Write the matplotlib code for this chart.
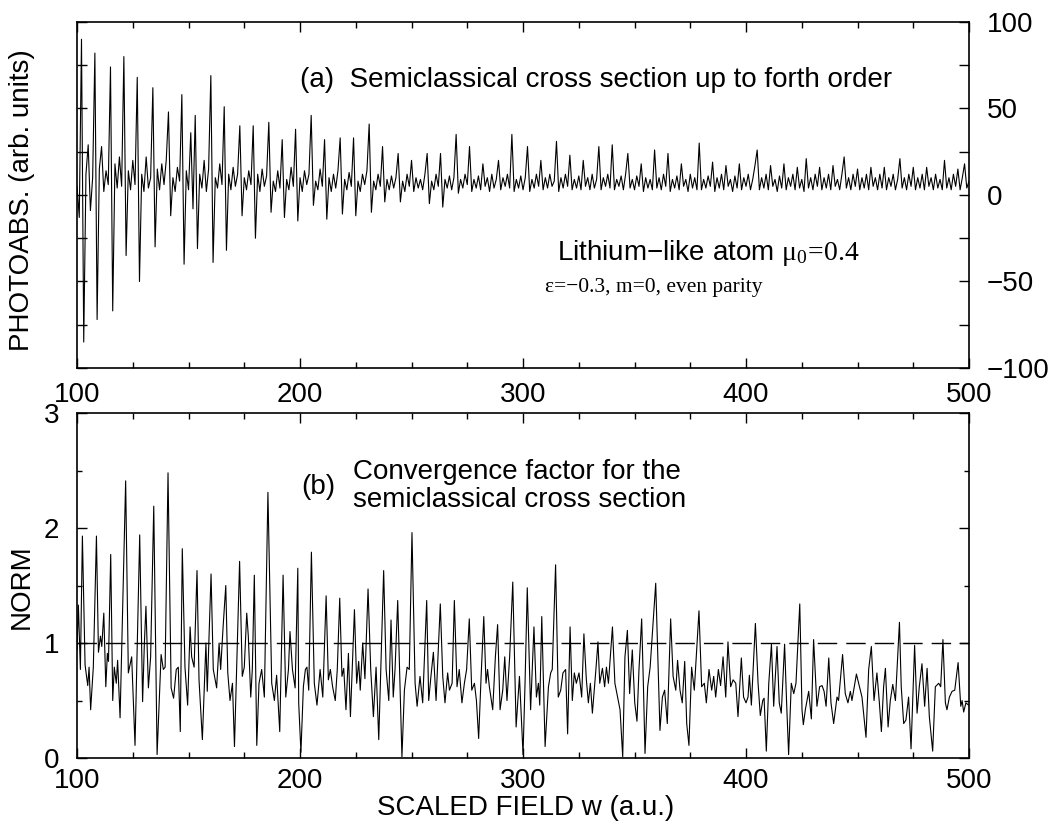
import numpy as np
import matplotlib.pyplot as plt
from matplotlib.ticker import MultipleLocator

plt.rcParams['font.family'] = ['Liberation Sans', 'DejaVu Sans']
plt.rcParams['mathtext.fontset'] = 'custom'
plt.rcParams['mathtext.rm'] = 'Liberation Serif'
plt.rcParams['mathtext.it'] = 'Liberation Serif:italic'

# (a) photoabsorption, one value per unit of scaled field (100 ... 500)
absorb_w = np.arange(100, 501)
absorb = [
    5, -13, 90, -85, 12, 29, -9, 10, 82, -72,
    15, 28, 2, 14, 6, 74, -67, 18, 4, 22,
    5, 80, -35, 14, 3, 20, 6, 68, -50, 12,
    2, 22, 4, 10, 62, -30, 15, 3, 18, 6,
    20, 48, -12, 10, 2, 16, 8, 58, -40, 14,
    3, 36, -8, 46, -31, 12, 4, 20, 2, 15,
    69, -39, 10, 4, 18, 6, 51, -32, 12, 3,
    16, 5, 12, 40, -12, 10, 3, 14, 6, 40,
    -25, 12, 2, 15, 5, 11, 42, -10, 8, 2,
    14, 4, 32, -13, 9, 3, 16, 5, 38, -15,
    10, 2, 14, 6, 12, 46, -6, 8, 3, 15,
    5, 32, -14, 10, 2, 12, 4, 14, 33, -11,
    9, 3, 13, 5, 33, -12, 8, 2, 12, 6,
    14, 41, -10, 8, 3, 12, 5, 28, -4, 9,
    3, 11, 4, 10, 24, -4, 8, 2, 12, 5,
    20, 2, 10, 4, 9, 3, 12, 24, -5, 8,
    3, 12, 5, 24, -7, 9, 4, 11, 3, 10,
    35, 1, 9, 4, 12, 6, 28, 2, 9, 4,
    11, 3, 18, 5, 10, 2, 12, 4, 9, 20,
    3, 10, 5, 12, 4, 35, 2, 9, 4, 11,
    3, 10, 28, 2, 9, 4, 12, 5, 20, 3,
    10, 4, 12, 5, 8, 31, 2, 10, 4, 12,
    5, 23, 3, 9, 4, 11, 3, 20, 5, 10,
    3, 12, 4, 9, 28, 3, 10, 5, 12, 4,
    29, 3, 9, 5, 11, 3, 12, 24, 4, 9,
    3, 11, 5, 18, 2, 10, 4, 9, 3, 26,
    4, 10, 3, 12, 5, 24, 2, 9, 4, 11,
    3, 18, 5, 9, 2, 12, 4, 10, 3, 30,
    3, 9, 4, 11, 5, 19, 2, 10, 4, 12,
    3, 17, 5, 9, 2, 11, 4, 18, 3, 10,
    5, 12, 3, 9, 17, 26, 3, 10, 4, 12,
    3, 17, 5, 9, 2, 11, 4, 18, 3, 10,
    5, 12, 3, 16, 4, 9, 2, 21, 4, 10,
    3, 12, 5, 16, 3, 10, 4, 12, 3, 17,
    5, 9, 3, 12, 22, 4, 10, 3, 12, 5,
    15, 3, 10, 4, 12, 3, 16, 5, 10, 3,
    12, 4, 16, 3, 10, 5, 12, 3, 9, 21,
    4, 10, 3, 12, 5, 16, 3, 10, 4, 12,
    3, 16, 5, 10, 3, 12, 4, 9, 3, 20,
    4, 10, 3, 12, 5, 15, 3, 10, 18, 4,
    8,
]

# (b) convergence factor, turning points
norm_w = [
    100.0, 100.6, 101.5, 102.4, 103.6, 104.8, 105.4, 106.1, 107.3, 108.7,
    109.6, 110.5, 111.1, 112.0, 112.9, 113.6, 114.1, 115.1, 116.0, 116.7,
    117.6, 118.2, 119.3, 121.8, 123.0, 124.5, 126.0, 128.1, 129.4, 130.2,
    130.9, 132.0, 133.0, 134.4, 135.9, 137.7, 138.7, 139.5, 140.8, 142.2,
    143.3, 144.5, 145.4, 146.3, 147.2, 148.4, 149.6, 150.7, 151.4, 152.5,
    153.8, 154.7, 156.2, 157.8, 158.4, 160.1, 161.1, 162.6, 163.7, 164.4,
    165.5, 166.7, 167.6, 168.6, 169.7, 170.6, 172.9, 174.1, 175.0, 176.1,
    176.8, 177.9, 178.6, 179.5, 180.6, 181.6, 182.8, 184.0, 185.6, 187.3,
    188.5, 189.5, 190.9, 192.4, 193.6, 194.8, 195.5, 196.6, 197.8, 199.0,
    199.4, 200.4, 201.5, 202.4, 203.1, 203.9, 205.1, 206.4, 207.6, 209.0,
    210.2, 211.7, 212.7, 213.6, 214.6, 215.8, 216.7, 217.8, 218.8, 219.6,
    220.6, 221.7, 222.6, 224.4, 225.4, 226.3, 227.0, 228.1, 229.1, 230.5,
    231.7, 232.9, 234.1, 235.3, 237.5, 238.6, 239.8, 240.8, 241.8, 242.6,
    243.8, 245.0, 245.7, 246.8, 248.0, 249.0, 250.2, 251.6, 252.5, 253.8,
    255.0, 256.8, 257.7, 258.7, 259.8, 261.0, 262.9, 264.0, 265.0, 266.2,
    267.0, 268.2, 269.2, 270.4, 271.4, 272.6, 273.7, 274.7, 275.9, 277.0,
    278.2, 279.1, 280.1, 281.2, 282.4, 283.4, 284.1, 284.9, 286.4, 287.6,
    288.6, 289.7, 290.9, 291.8, 292.8, 294.0, 295.4, 296.9, 298.4,
    300.0, 300.9, 301.9, 303.4, 304.9, 306.0, 306.9, 307.5, 308.4, 309.9,
    311.4, 312.4, 313.1, 314.6, 315.8, 316.9, 317.9, 319.1, 320.0, 321.1,
    322.1, 323.0, 323.9, 325.1, 326.3, 327.3, 328.4, 329.3, 330.2, 331.1,
    332.6, 333.6, 334.4, 335.6, 336.6, 337.4, 338.3, 340.1, 341.2, 342.4,
    343.5, 344.7, 345.7, 346.8, 347.8, 349.0, 350.1, 351.1, 352.0, 353.2,
    354.0, 354.7, 355.9, 357.0, 359.5, 360.7, 361.4, 362.5, 363.5, 364.7,
    366.2, 367.3, 368.5, 369.3, 370.4, 371.4, 372.5, 373.4, 374.4, 375.6,
    376.8, 378.9, 380.1, 381.3, 382.2, 383.4, 384.6, 385.5, 386.4, 387.6,
    388.6, 389.7, 390.9, 391.9, 393.1, 394.2, 395.4, 396.4, 397.9,
    398.9, 400.0, 400.9, 401.5, 402.4, 404.2, 405.4, 406.4, 407.5, 408.1,
    409.1, 410.2, 411.4, 412.4, 413.9, 414.9, 415.8, 417.3, 418.2, 419.1,
    420.3, 421.4, 422.4, 424.1, 425.1, 425.7, 426.6, 428.1, 429.3, 430.3,
    431.8, 433.0, 434.1, 435.0, 435.9, 437.1, 438.1, 439.3, 440.8, 441.5,
    443.3, 444.5, 445.7, 446.8, 447.5, 449.5, 450.5, 452.0, 453.8, 455.0,
    456.2, 457.4, 458.7, 459.8, 460.7, 461.7, 462.5, 463.7, 464.7, 465.8,
    467.0, 468.8, 469.6, 470.7, 471.7, 472.9, 474.0, 475.6, 476.7, 477.7,
    478.9, 480.1, 481.2, 482.2, 483.7, 484.9, 486.4, 487.3, 488.3, 489.4,
    490.1, 491.2, 492.4, 493.6, 495.1, 496.3, 496.9, 497.6, 498.6, 499.8,
]
norm_v = [
    0.94, 1.33, 0.77, 1.93, 0.81, 0.63, 0.79, 0.42, 0.79, 1.93,
    0.92, 1.06, 0.97, 1.26, 0.62, 0.91, 0.84, 1.77, 0.50, 0.79,
    0.65, 0.85, 0.35, 2.41, 0.74, 0.88, 0.11, 1.94, 0.49, 1.00,
    1.32, 0.61, 0.88, 2.19, 0.03, 0.90, 0.77, 0.79, 2.48, 0.61,
    0.52, 0.77, 0.79, 0.23, 1.82, 0.79, 0.46, 1.14, 0.88, 0.79,
    1.63, 0.68, 0.16, 1.00, 0.58, 1.60, 0.77, 0.61, 1.00, 0.77,
    1.14, 1.50, 0.74, 0.50, 0.65, 0.10, 1.71, 0.71, 0.79, 1.26,
    1.06, 0.53, 0.77, 1.59, 0.11, 0.65, 0.77, 0.53, 2.31, 0.65,
    0.50, 0.72, 0.23, 1.59, 0.53, 0.77, 1.10, 0.77, 0.61, 1.65,
    0.48, 0.05, 0.62, 0.77, 0.79, 0.59, 1.79, 0.65, 0.46, 0.77,
    0.53, 1.41, 0.68, 0.77, 0.62, 0.50, 0.77, 1.39, 0.71, 0.78,
    0.42, 0.91, 0.36, 1.29, 0.65, 0.84, 0.59, 1.00, 0.69, 1.47,
    0.77, 0.36, 0.79, 0.16, 1.63, 0.77, 0.50, 1.20, 0.53, 0.77,
    1.37, 0.50, 0.01, 0.59, 0.79, 0.77, 1.96, 0.65, 0.45, 0.71,
    0.48, 1.37, 0.50, 0.71, 0.92, 0.50, 1.34, 0.71, 0.48, 0.74,
    0.59, 0.65, 1.37, 0.62, 0.77, 0.48, 0.65, 0.77, 1.21, 0.59,
    0.65, 0.50, 0.17, 0.71, 1.23, 0.65, 0.77, 0.62, 0.42, 0.88,
    1.16, 0.42, 0.59, 0.88, 0.50, 0.88, 1.53, 0.27, 0.71,
    0.03, 0.65, 1.48, 0.42, 1.14, 0.53, 0.65, 0.46, 1.23, 0.10,
    0.62, 0.74, 0.77, 1.68, 0.53, 0.59, 0.74, 0.77, 0.21, 1.14,
    0.50, 0.74, 0.65, 0.74, 0.53, 1.08, 0.68, 0.48, 0.65, 0.39,
    0.75, 1.01, 0.65, 0.78, 0.62, 0.79, 0.65, 1.14, 0.65, 0.53,
    0.42, 0.01, 0.88, 1.11, 0.56, 0.94, 0.48, 0.32, 0.77, 1.21,
    0.62, 0.04, 0.62, 0.79, 1.52, 0.71, 0.24, 0.53, 0.59, 0.30,
    1.21, 0.71, 0.59, 0.85, 0.59, 0.48, 0.84, 0.30, 0.11, 0.79,
    0.59, 1.28, 0.62, 0.65, 0.48, 0.77, 0.59, 0.71, 0.53, 0.77,
    0.63, 0.88, 0.53, 1.01, 0.62, 0.68, 0.65, 0.36, 0.87,
    0.53, 0.48, 0.53, 0.72, 0.46, 1.17, 0.65, 0.37, 0.50, 0.52,
    0.06, 0.65, 0.99, 0.45, 0.97, 0.48, 0.39, 0.99, 0.48, 0.03,
    0.65, 0.56, 0.65, 1.34, 0.42, 0.29, 0.42, 0.58, 0.34, 1.03,
    0.45, 0.62, 0.63, 0.58, 0.45, 0.87, 0.48, 0.30, 0.53, 0.50,
    0.90, 0.56, 0.48, 0.58, 0.50, 0.73, 0.65, 0.53, 0.18, 0.77,
    0.97, 0.50, 0.74, 0.48, 0.23, 0.62, 0.78, 0.27, 0.50, 0.64,
    0.50, 1.18, 0.62, 0.30, 0.33, 0.53, 0.08, 0.98, 0.39, 0.62,
    0.82, 0.45, 0.78, 0.36, 0.06, 0.62, 0.65, 0.62, 1.03, 0.48,
    0.42, 0.53, 0.58, 0.59, 0.83, 0.45, 0.50, 0.40, 0.48, 0.46,
]

fig = plt.figure(figsize=(10.51, 8.32), dpi=100)
ax1 = fig.add_axes([0.0733, 0.5577, 0.8487, 0.4159])
ax2 = fig.add_axes([0.0733, 0.0889, 0.8487, 0.4147])

# top panel
ax1.plot(absorb_w, absorb, color='black', lw=0.8)
ax1.set_xlim(100, 500)
ax1.set_ylim(-100, 100)
ax1.xaxis.set_major_locator(MultipleLocator(100))
ax1.xaxis.set_minor_locator(MultipleLocator(25))
ax1.yaxis.set_major_locator(MultipleLocator(50))
ax1.yaxis.set_minor_locator(MultipleLocator(25))
ax1.tick_params(which='both', direction='in', top=True, right=True,
                labelsize=20, width=1)
ax1.tick_params(axis='x', which='major', length=7, pad=10)
ax1.tick_params(axis='x', which='minor', length=4)
ax1.tick_params(axis='y', which='both', length=7, pad=13,
                labelleft=False, labelright=True)

ax1.text(0.25, 0.812, '(a)  Semiclassical cross section up to forth order',
         transform=ax1.transAxes, fontsize=20, va='baseline')
ax1.text(0.538, 0.312,
         'Lithium\u2212like atom $\\mathrm{\u03bc_0\\!=\\!0.4}$',
         transform=ax1.transAxes, fontsize=20, va='baseline')
ax1.text(0.525, 0.220, '\u03b5=\u22120.3, m=0, even parity',
         transform=ax1.transAxes, fontsize=15.5, va='baseline',
         family='Liberation Serif')

# bottom panel
ax2.plot(norm_w, norm_v, color='black', lw=0.8)
ax2.axhline(1, color='black', lw=1, dashes=(14, 6.5))
ax2.set_xlim(100, 500)
ax2.set_ylim(0, 3)
ax2.xaxis.set_major_locator(MultipleLocator(100))
ax2.xaxis.set_minor_locator(MultipleLocator(25))
ax2.yaxis.set_major_locator(MultipleLocator(1))
ax2.yaxis.set_minor_locator(MultipleLocator(0.5))
ax2.tick_params(which='both', direction='in', top=True, right=True,
                labelsize=20, width=1)
ax2.tick_params(axis='x', which='major', length=7, pad=7)
ax2.tick_params(axis='x', which='minor', length=4)
ax2.tick_params(axis='y', which='major', length=7, pad=13)
ax2.tick_params(axis='y', which='minor', length=3.5)

ax2.text(0.251, 0.765, '(b)', transform=ax2.transAxes, fontsize=20,
         va='baseline')
ax2.text(0.309, 0.809, 'Convergence factor for the',
         transform=ax2.transAxes, fontsize=20, va='baseline')
ax2.text(0.309, 0.728, 'semiclassical cross section',
         transform=ax2.transAxes, fontsize=20, va='baseline')

for ax in (ax1, ax2):
    for sp in ax.spines.values():
        sp.set_linewidth(1.2)

fig.text(0.021, 0.76, 'PHOTOABS. (arb. units)', rotation=90,
         ha='center', va='center', fontsize=20)
fig.text(0.021, 0.2945, 'NORM', rotation=90, ha='center', va='center',
         fontsize=20)
fig.text(0.5, 0.029, 'SCALED FIELD w (a.u.)', ha='center', va='center',
         fontsize=20)

fig.savefig('out.png', dpi=100)
